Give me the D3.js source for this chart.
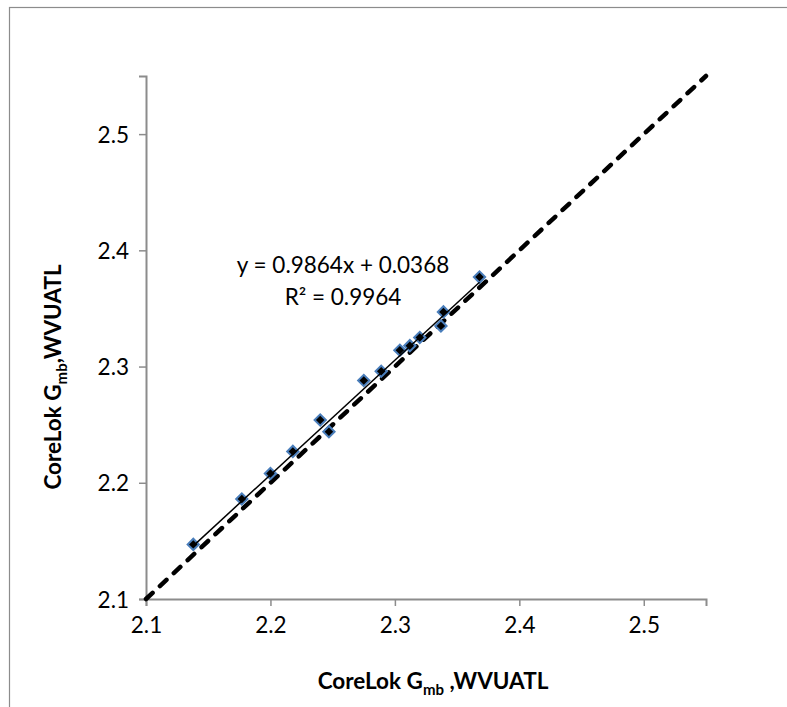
<!DOCTYPE html>
<html lang="en">

<head>
    <meta charset="UTF-8">
    <title>CoreLok Gmb</title>
    <script src="https://d3js.org/d3.v7.min.js"></script>
</head>

<style>
    body {
        margin: 0;
        background: #fff;
    }

    text {
        font-family: Lato, "Open Sans", sans-serif;
        fill: #000;
    }
</style>

<body>
    <svg class="chart"></svg>

    <script>
        const svgW = 787;
        const svgH = 707;

        // measured values (x = CoreLok WVUATL, y = CoreLok WVUATL repeat)
        const xVals = [2.138, 2.177, 2.200, 2.218, 2.240, 2.247, 2.275, 2.289, 2.304, 2.312, 2.320, 2.337, 2.339, 2.368];
        const yVals = [2.147, 2.186, 2.208, 2.227, 2.254, 2.244, 2.288, 2.296, 2.314, 2.318, 2.325, 2.335, 2.347, 2.377];

        // line of equality
        const equality = [2.1, 2.55];

        // trend line from the label
        const slope = 0.9864;
        const intercept = 0.0368;
        const rSquared = 0.9964;

        const xTicks = [2.1, 2.2, 2.3, 2.4, 2.5];
        const yTicks = [2.1, 2.2, 2.3, 2.4, 2.5];

        const margin = { left: 146, right: 81, top: 76, bottom: 108 };

        const svg = d3.select(".chart")
            .attr("width", svgW)
            .attr("height", svgH);

        // outer chart frame
        svg.append("rect")
            .attr("x", 9.5)
            .attr("y", 7.5)
            .attr("width", svgW + 20)
            .attr("height", svgH + 20)
            .attr("fill", "none")
            .attr("stroke", "#8c8c8c")
            .attr("stroke-width", 1.2);

        const x = d3.scaleLinear()
            .domain([2.1, 2.55])
            .range([margin.left, svgW - margin.right]);

        const y = d3.scaleLinear()
            .domain([2.1, 2.55])
            .range([svgH - margin.bottom, margin.top]);

        // axes
        const xAxis = svg.append("g")
            .attr("transform", `translate(0,${svgH - margin.bottom})`)
            .call(d3.axisBottom(x).tickValues(xTicks).tickFormat(d3.format(".1f")).tickSize(7).tickPadding(11));

        const yAxis = svg.append("g")
            .attr("transform", `translate(${margin.left},0)`)
            .call(d3.axisLeft(y).tickValues(yTicks).tickFormat(d3.format(".1f")).tickSize(7).tickPadding(10));

        [xAxis, yAxis].forEach(a => {
            a.select(".domain").attr("stroke", "#8c8c8c").attr("stroke-width", 2);
            a.selectAll(".tick line").attr("stroke", "#8c8c8c").attr("stroke-width", 1.5);
            a.selectAll(".tick text").style("font-size", "22.5px").attr("fill", "#000");
        });
        yAxis.selectAll(".tick text").attr("dy", "0.36em");

        // dashed 1:1 line
        svg.append("line")
            .attr("x1", x(equality[0]))
            .attr("y1", y(equality[0]))
            .attr("x2", x(equality[1]))
            .attr("y2", y(equality[1]))
            .attr("stroke", "#000")
            .attr("stroke-width", 4.5)
            .attr("stroke-linecap", "round")
            .attr("stroke-dasharray", "9 10");

        // markers
        const pts = xVals.map((v, i) => [v, yVals[i]]);
        const diamond = d3.symbol().type(d3.symbolSquare).size(64);

        svg.append("g")
            .selectAll("path")
            .data(pts)
            .join("path")
            .attr("d", diamond)
            .attr("transform", d => `translate(${x(d[0])},${y(d[1])}) rotate(45)`)
            .attr("fill", "#000")
            .attr("stroke", "#4a7ebb")
            .attr("stroke-width", 2);

        // linear trend line
        const [xMin, xMax] = d3.extent(xVals);
        svg.append("line")
            .attr("x1", x(xMin))
            .attr("y1", y(slope * xMin + intercept))
            .attr("x2", x(xMax))
            .attr("y2", y(slope * xMax + intercept))
            .attr("stroke", "#000")
            .attr("stroke-width", 1.5);

        // trend label
        const label = svg.append("text")
            .attr("text-anchor", "middle")
            .style("font-size", "22.5px");
        label.append("tspan")
            .attr("x", 343)
            .attr("y", 273)
            .text(`y = ${slope}x + ${intercept}`);
        label.append("tspan")
            .attr("x", 343)
            .attr("y", 305)
            .text(`R² = ${rSquared}`);

        // axis titles with subscript
        function title(sel, sep) {
            sel.append("tspan").text("CoreLok G");
            sel.append("tspan").attr("dy", 6).style("font-size", "15px").text("mb");
            sel.append("tspan").attr("dy", -6).text(sep + "WVUATL");
        }

        const xTitle = svg.append("text")
            .attr("x", 433)
            .attr("y", 689)
            .attr("text-anchor", "middle")
            .style("font-size", "22.5px")
            .style("font-weight", "bold");
        title(xTitle, " ,");

        const yTitle = svg.append("text")
            .attr("transform", "translate(61,377) rotate(-90)")
            .attr("text-anchor", "middle")
            .style("font-size", "22.5px")
            .style("font-weight", "bold");
        title(yTitle, ",");
    </script>
</body>

</html>
